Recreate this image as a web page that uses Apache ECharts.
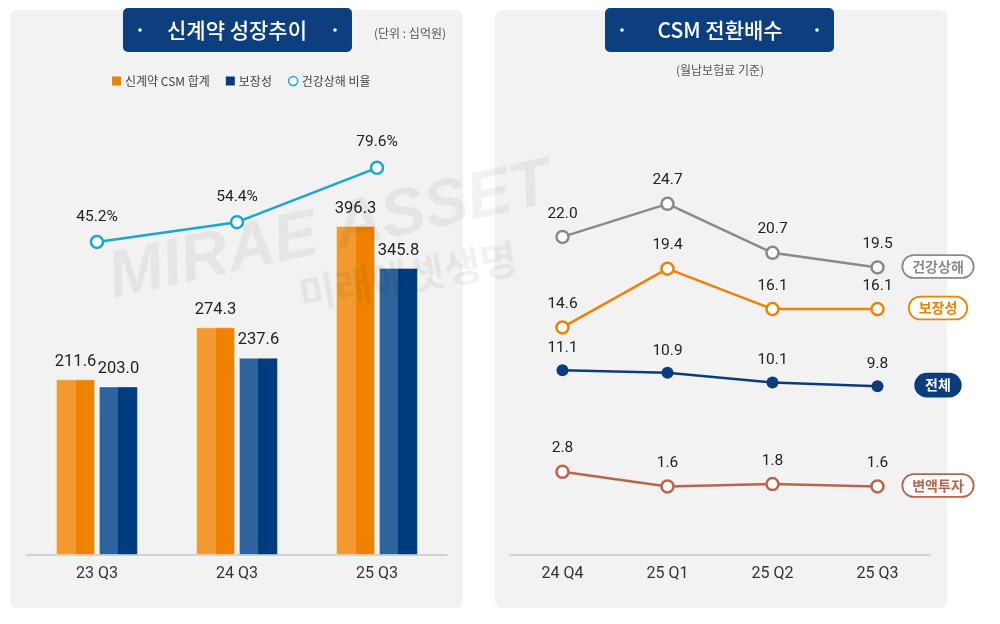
<!DOCTYPE html>
<html>
<head>
<meta charset="utf-8">
<script src="https://cdn.jsdelivr.net/npm/echarts@6/dist/echarts.min.js"></script>
<style>
html,body{margin:0;padding:0;background:#fff;}
#main{width:1000px;height:624px;}
</style>
</head>
<body>
<div id="main"></div>
<script>
// ---- Data ----
const leftCats = ['23 Q3', '24 Q3', '25 Q3'];
const csmTotal = [211.6, 274.3, 396.3];
const protectionCsm = [203.0, 237.6, 345.8];
const healthRatio = [45.2, 54.4, 79.6];

const rightCats = ['24 Q4', '25 Q1', '25 Q2', '25 Q3'];
const mulHealth = [22.0, 24.7, 20.7, 19.5];
const mulProtection = [14.6, 19.4, 16.1, 16.1];
const mulTotal = [11.1, 10.9, 10.1, 9.8];
const mulVariable = [2.8, 1.6, 1.8, 1.6];

const leftNames = ['신계약 CSM 합계', '보장성', '건강상해 비율'];
const rightNames = ['건강상해', '보장성', '전체', '변액투자'];

// ---- Styles ----
const NUM_FONT = 'Roboto, "Liberation Sans", Arial, sans-serif';
const KR_FONT = '"Noto Sans CJK KR", "Noto Sans", sans-serif';
const ORANGE = '#ef8200', NAVY = '#0b3c7c', CYAN = '#19a6d1', GRAY = '#8a8a8a', BROWN = '#b9644c';

const chart = echarts.init(document.getElementById('main'), null, {renderer: 'canvas'});

function hGrad(a, b) {
  return new echarts.graphic.LinearGradient(0, 0, 1, 0, [
    {offset: 0, color: a}, {offset: 0.5, color: a}, {offset: 0.5, color: b}, {offset: 1, color: b}
  ]);
}

const xAxisBase = {
  type: 'category',
  boundaryGap: true,
  axisLine: {show: true, onZero: false, lineStyle: {color: '#d2d2d2', width: 2}},
  axisTick: {show: false},
  axisLabel: {fontSize: 16, color: '#333', margin: 11, fontFamily: NUM_FONT},
  splitLine: {show: false}
};
const yHidden = {type: 'value', show: false, splitLine: {show: false}};

function lineSeries(name, data, color, xi, yi, filled, labelFmt, labelDist, labelSize) {
  return {
    name: name,
    type: 'line',
    xAxisIndex: xi,
    yAxisIndex: yi,
    data: data,
    symbol: 'circle',
    symbolSize: 12,
    z: 5,
    lineStyle: {color: color, width: 2.5},
    itemStyle: filled ? {color: color, borderColor: color, borderWidth: 0} : {color: '#fff', borderColor: color, borderWidth: 2.5},
    label: {
      show: true, position: 'top', distance: labelDist,
      fontSize: labelSize, color: '#222', fontFamily: NUM_FONT,
      formatter: labelFmt
    },
    emphasis: {disabled: true},
    animation: false
  };
}

const option = {
  animation: false,
  backgroundColor: '#ffffff',
  legend: {
    data: [
      {name: leftNames[0], icon: 'rect', itemStyle: {color: ORANGE, borderWidth: 0}},
      {name: leftNames[1], icon: 'rect', itemStyle: {color: '#013d7e', borderWidth: 0}},
      {name: leftNames[2], icon: 'circle', itemStyle: {color: '#fff', borderColor: CYAN, borderWidth: 1.5}}
    ],
    left: 107, top: 70,
    itemWidth: 9, itemHeight: 9, itemGap: 16,
    textStyle: {fontSize: 12, color: '#444', fontFamily: KR_FONT, padding: [0, 0, 0, -1]},
    selectedMode: false
  },
  grid: [
    {left: 27, top: 140, width: 420, height: 415},
    {left: 510, top: 139, width: 420, height: 416}
  ],
  xAxis: [
    Object.assign({}, xAxisBase, {gridIndex: 0, data: leftCats}),
    Object.assign({}, xAxisBase, {gridIndex: 1, data: rightCats})
  ],
  yAxis: [
    Object.assign({}, yHidden, {gridIndex: 0, min: 0, max: 500}),
    Object.assign({}, yHidden, {gridIndex: 0, min: -100, max: 92.5}),
    Object.assign({}, yHidden, {gridIndex: 1, min: -4, max: 30})
  ],
  series: [
    {
      name: leftNames[0], type: 'bar', xAxisIndex: 0, yAxisIndex: 0,
      data: csmTotal, barWidth: 39, barGap: '10%',
      itemStyle: {color: hGrad('#f29a30', ORANGE), borderColor: 'rgba(255,255,255,0.35)', borderWidth: 1},
      label: {show: true, position: 'top', distance: 9, fontSize: 16.5, color: '#222', fontFamily: NUM_FONT,
        formatter: p => p.value.toFixed(1)},
      emphasis: {disabled: true}
    },
    {
      name: leftNames[1], type: 'bar', xAxisIndex: 0, yAxisIndex: 0,
      data: protectionCsm, barWidth: 39, barGap: '10%',
      itemStyle: {color: hGrad('#2f639b', '#013d7e'), borderColor: 'rgba(255,255,255,0.35)', borderWidth: 1},
      label: {show: true, position: 'top', distance: 9, fontSize: 16.5, color: '#222', fontFamily: NUM_FONT,
        formatter: p => p.value.toFixed(1)},
      emphasis: {disabled: true}
    },
    lineSeries(leftNames[2], healthRatio, CYAN, 0, 1, false, p => p.value.toFixed(1) + '%', 10, 15.5),
    lineSeries(rightNames[0], mulHealth, GRAY, 1, 2, false, p => p.value.toFixed(1), 8, 15.5),
    lineSeries(rightNames[1], mulProtection, ORANGE, 1, 2, false, p => p.value.toFixed(1), 8, 15.5),
    lineSeries(rightNames[2], mulTotal, NAVY, 1, 2, true, p => p.value.toFixed(1), 8, 15.5),
    lineSeries(rightNames[3], mulVariable, BROWN, 1, 2, false, p => p.value.toFixed(1), 8, 15.5)
  ]
};
chart.setOption(option);

// ---- Decorations (panels, title badges, watermark, right-side tags) ----
const lastIdx = rightCats.length - 1;
function yOf(arr) { return chart.convertToPixel({gridIndex: 1}, [lastIdx, arr[lastIdx]])[1]; }

const tagDefs = [
  {text: rightNames[0], arr: mulHealth, color: GRAY, filled: false},
  {text: rightNames[1], arr: mulProtection, color: ORANGE, filled: false},
  {text: rightNames[2], arr: mulTotal, color: NAVY, filled: true},
  {text: rightNames[3], arr: mulVariable, color: BROWN, filled: false}
];

const graphics = [
  {type: 'rect', z: -10, silent: true, shape: {x: 10, y: 10, width: 453, height: 598, r: 7}, style: {fill: '#f2f2f2'}},
  {type: 'rect', z: -10, silent: true, shape: {x: 495, y: 10, width: 452, height: 598, r: 7}, style: {fill: '#f2f2f2'}},
  // left badge
  {type: 'rect', z: 20, silent: true, shape: {x: 123, y: 8, width: 229, height: 44, r: 5}, style: {fill: '#0d3f7f'}},
  {type: 'circle', z: 21, silent: true, shape: {cx: 140, cy: 30, r: 1.8}, style: {fill: '#fff'}},
  {type: 'circle', z: 21, silent: true, shape: {cx: 335, cy: 30, r: 1.8}, style: {fill: '#fff'}},
  {type: 'text', z: 21, silent: true, style: {text: '신계약 성장추이', x: 237, y: 30, align: 'center', verticalAlign: 'middle',
    fill: '#fff', font: '500 21px ' + KR_FONT}},
  {type: 'text', z: 21, silent: true, style: {text: '(단위 : 십억원)', x: 410, y: 33, align: 'center', verticalAlign: 'middle',
    fill: '#555', font: '12px ' + KR_FONT}},
  // right badge
  {type: 'rect', z: 20, silent: true, shape: {x: 605, y: 8, width: 229, height: 44, r: 5}, style: {fill: '#0d3f7f'}},
  {type: 'circle', z: 21, silent: true, shape: {cx: 622, cy: 30, r: 1.8}, style: {fill: '#fff'}},
  {type: 'circle', z: 21, silent: true, shape: {cx: 817, cy: 30, r: 1.8}, style: {fill: '#fff'}},
  {type: 'text', z: 21, silent: true, style: {text: 'CSM 전환배수', x: 720, y: 30, align: 'center', verticalAlign: 'middle',
    fill: '#fff', font: '500 21px ' + KR_FONT}},
  {type: 'text', z: 21, silent: true, style: {text: '(월납보험료 기준)', x: 720, y: 70, align: 'center', verticalAlign: 'middle',
    fill: '#555', font: '12px ' + KR_FONT}},
  // watermark
  {type: 'text', z: 30, silent: true, x: 330, y: 232, rotation: 0.215, style: {text: 'MIRAE ASSET', x: 0, y: 0,
    align: 'center', verticalAlign: 'middle', fill: 'rgba(0,0,0,0.05)', font: 'italic bold 66px "Liberation Sans", Arial, sans-serif'}},
  {type: 'text', z: 30, silent: true, x: 408, y: 276, rotation: 0.17, style: {text: '미래에셋생명', x: 0, y: 0,
    align: 'center', verticalAlign: 'middle', fill: 'rgba(0,0,0,0.05)', font: 'bold 40px ' + KR_FONT}}
];

tagDefs.forEach(t => {
  graphics.push({
    type: 'text', z: 25, silent: true,
    style: {
      text: t.text, x: 938, y: yOf(t.arr) - 1, align: 'center', verticalAlign: 'middle',
      fill: t.filled ? '#fff' : t.color, font: 'bold 14px ' + KR_FONT,
      backgroundColor: t.filled ? t.color : '#fff',
      borderColor: t.color, borderWidth: 1.8, borderRadius: 13, padding: [4, 9, 3, 9]
    }
  });
});

chart.setOption({graphic: graphics});
</script>
</body>
</html>
